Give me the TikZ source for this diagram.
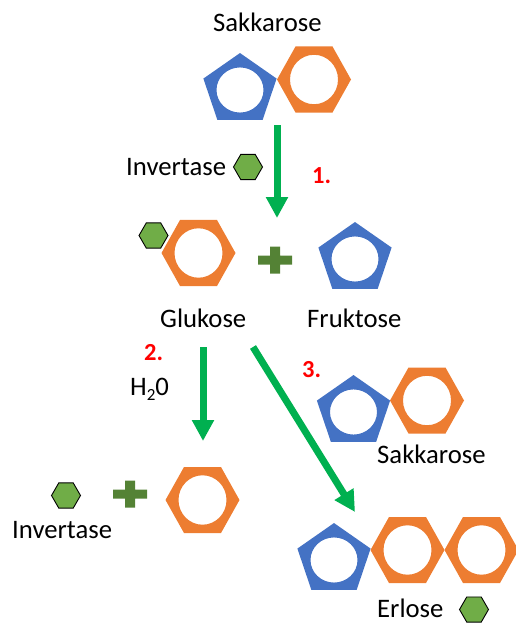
\documentclass[tikz,border=0pt]{standalone}
\usepackage{fontspec}
\setmainfont{Carlito}
\usetikzlibrary{arrows.meta}
\definecolor{pblue}{RGB}{68,114,196}
\definecolor{porange}{RGB}{237,125,49}
\definecolor{arrgreen}{RGB}{0,176,80}
\definecolor{hexgreen}{RGB}{112,173,71}
\definecolor{plusgreen}{RGB}{84,130,53}
\tikzset{
  pent/.pic={\fill[pblue,even odd rule,yscale=0.96] (90:38.5)--(18:38.5)--(-54:38.5)--(-126:38.5)--(162:38.5)--cycle (0,0) circle[radius=23.5];},
  hexo/.pic={\fill[porange,even odd rule,yscale=1.03] (0:37)--(60:37)--(120:37)--(180:37)--(240:37)--(300:37)--cycle (0,0) circle[radius=24];},
  hexs/.pic={\filldraw[fill=hexgreen,draw=black,line width=0.9pt] (0:14.5)--(60:14.5)--(120:14.5)--(180:14.5)--(240:14.5)--(300:14.5)--cycle;},
  plussign/.pic={\fill[plusgreen] (-17,-4.5) rectangle (17,4.5) (-5,-13.5) rectangle (5,13.5);},
  lbl/.style={inner sep=0pt, anchor=base west, font=\fontsize{26.7}{32}\selectfont},
  num/.style={inner sep=0pt, anchor=base west, text=red, font=\fontsize{24.5}{30}\selectfont\bfseries},
  arr/.style={arrgreen, line width=7pt, -{Triangle[width=21pt,length=21pt]}},
}
\begin{document}
\begin{tikzpicture}[x=1pt,y=1pt]
\useasboundingbox (0,0) rectangle (516,-626);
% top sucrose
\pic at (240,-90) {pent};
\pic at (314,-79.5) {hexo};
\node[lbl] (tsak) at (213,-32) {Sakkarose};
% invertase label
\node[lbl] (tinv) at (126,-175) {Invertase};
\pic at (248,-167) {hexs};
\node[num] (n1) at (312,-183) {1.};
% middle row
\pic at (153.5,-235.5) {hexs};
\pic at (198.5,-253) {hexo};
\pic at (275,-260) {plussign};
\pic at (355,-259) {pent};
\node[lbl] (tglu) at (160,-327) {Glukose};
\node[lbl] (tfru) at (307,-327) {Fruktose};
\node[num] (n2) at (144,-360) {2.};
\node[lbl] (th2o) at (130,-395) {H\raisebox{-0.22em}{\fontsize{17}{17}\selectfont 2}0};
\node[num] (n3) at (302,-377) {3.};
% bottom left
\pic at (66,-495.5) {hexs};
\pic at (130,-494) {plussign};
\pic at (202.5,-500) {hexo};
\node[lbl] (tinv2) at (12,-538) {Invertase};
% bottom right sucrose
\pic at (353.5,-412) {pent};
\pic at (427,-400.5) {hexo};
\node[lbl] (tsak2) at (377,-463) {Sakkarose};
% erlose
\pic at (334,-560) {pent};
\pic at (407.5,-550) {hexo};
\pic at (481.5,-550) {hexo};
\node[lbl] (terl) at (377,-617) {Erlose};
\pic at (474,-609.5) {hexs};
% arrows
\coordinate (a1s) at (277,-125);
\coordinate (a1e) at (277,-218);
\coordinate (a2s) at (203,-347);
\coordinate (a2e) at (203,-441);
\coordinate (a3s) at (253,-347);
\coordinate (a3e) at (355,-512);
\draw[arr] (a1s) -- (a1e);
\draw[arr] (a2s) -- (a2e);
\draw[arr] (a3s) -- (a3e);
\end{tikzpicture}
\end{document}
